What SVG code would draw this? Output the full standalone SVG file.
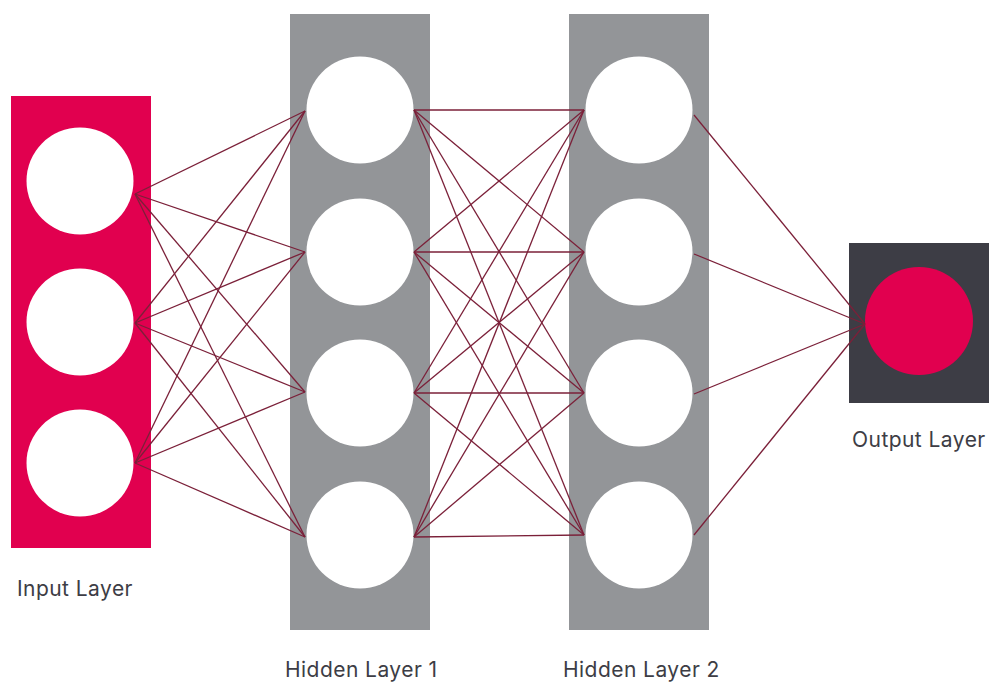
<svg xmlns="http://www.w3.org/2000/svg" width="1000" height="682" viewBox="0 0 1000 682">
  <style>
    .in-panel { fill: #E1004F; }
    .hid-panel { fill: #939598; }
    .out-panel { fill: #3D3D45; }
    .unit { fill: #FFFFFF; }
    .out-unit { fill: #E1004F; }
    .edges line { stroke: #7B2039; stroke-width: 1.3; }
    .label { font-family: Inter, "Liberation Sans", sans-serif; font-size: 21px; letter-spacing: 0.45px; fill: #3D3D45; }
  </style>

  <rect width="1000" height="682" fill="#FFFFFF"/>

  <!-- layer panels and units -->
  <g id="input-layer">
    <rect class="in-panel" x="11" y="96" width="140" height="452"/>
    <circle class="unit" cx="80" cy="181" r="53.5"/>
    <circle class="unit" cx="80" cy="322" r="53.5"/>
    <circle class="unit" cx="80" cy="463" r="53.5"/>
    <text class="label" x="17" y="596">Input Layer</text>
  </g>

  <g id="hidden-layer-1">
    <rect class="hid-panel" x="290" y="14" width="140" height="616"/>
    <circle class="unit" cx="360" cy="110" r="53.5"/>
    <circle class="unit" cx="360" cy="252" r="53.5"/>
    <circle class="unit" cx="360" cy="393" r="53.5"/>
    <circle class="unit" cx="360" cy="535" r="53.5"/>
    <text class="label" x="285" y="677">Hidden Layer 1</text>
  </g>

  <g id="hidden-layer-2">
    <rect class="hid-panel" x="569" y="14" width="140" height="616"/>
    <circle class="unit" cx="639" cy="110" r="53.5"/>
    <circle class="unit" cx="639" cy="252" r="53.5"/>
    <circle class="unit" cx="639" cy="393" r="53.5"/>
    <circle class="unit" cx="639" cy="535" r="53.5"/>
    <text class="label" x="563" y="677">Hidden Layer 2</text>
  </g>

  <g id="output-layer">
    <rect class="out-panel" x="849" y="243" width="140" height="160"/>
    <circle class="out-unit" cx="919" cy="321" r="54"/>
    <text class="label" x="852" y="447">Output Layer</text>
  </g>

  <!-- connections -->
  <g id="connectors" class="edges">
    <!-- input -> hidden 1 -->
    <line x1="135" y1="194" x2="305" y2="111"/>
    <line x1="135" y1="194" x2="305" y2="252"/>
    <line x1="135" y1="194" x2="305" y2="392"/>
    <line x1="135" y1="194" x2="305" y2="537"/>
    <line x1="135" y1="323" x2="305" y2="111"/>
    <line x1="135" y1="323" x2="305" y2="252"/>
    <line x1="135" y1="323" x2="305" y2="392"/>
    <line x1="135" y1="323" x2="305" y2="537"/>
    <line x1="135" y1="463" x2="305" y2="111"/>
    <line x1="135" y1="463" x2="305" y2="252"/>
    <line x1="135" y1="463" x2="305" y2="392"/>
    <line x1="135" y1="463" x2="305" y2="537"/>
    <!-- hidden 1 -> hidden 2 -->
    <line x1="414" y1="110" x2="584" y2="110"/>
    <line x1="414" y1="110" x2="584" y2="252"/>
    <line x1="414" y1="110" x2="584" y2="393"/>
    <line x1="414" y1="110" x2="584" y2="535"/>
    <line x1="414" y1="252" x2="584" y2="110"/>
    <line x1="414" y1="252" x2="584" y2="252"/>
    <line x1="414" y1="252" x2="584" y2="393"/>
    <line x1="414" y1="252" x2="584" y2="535"/>
    <line x1="414" y1="393" x2="584" y2="110"/>
    <line x1="414" y1="393" x2="584" y2="252"/>
    <line x1="414" y1="393" x2="584" y2="393"/>
    <line x1="414" y1="393" x2="584" y2="535"/>
    <line x1="414" y1="537" x2="584" y2="110"/>
    <line x1="414" y1="537" x2="584" y2="252"/>
    <line x1="414" y1="537" x2="584" y2="393"/>
    <line x1="414" y1="537" x2="584" y2="535"/>
    <!-- hidden 2 -> output -->
    <line x1="694" y1="115" x2="865" y2="324"/>
    <line x1="694" y1="254" x2="865" y2="324"/>
    <line x1="694" y1="394" x2="865" y2="324"/>
    <line x1="694" y1="535" x2="865" y2="324"/>
  </g>
</svg>
